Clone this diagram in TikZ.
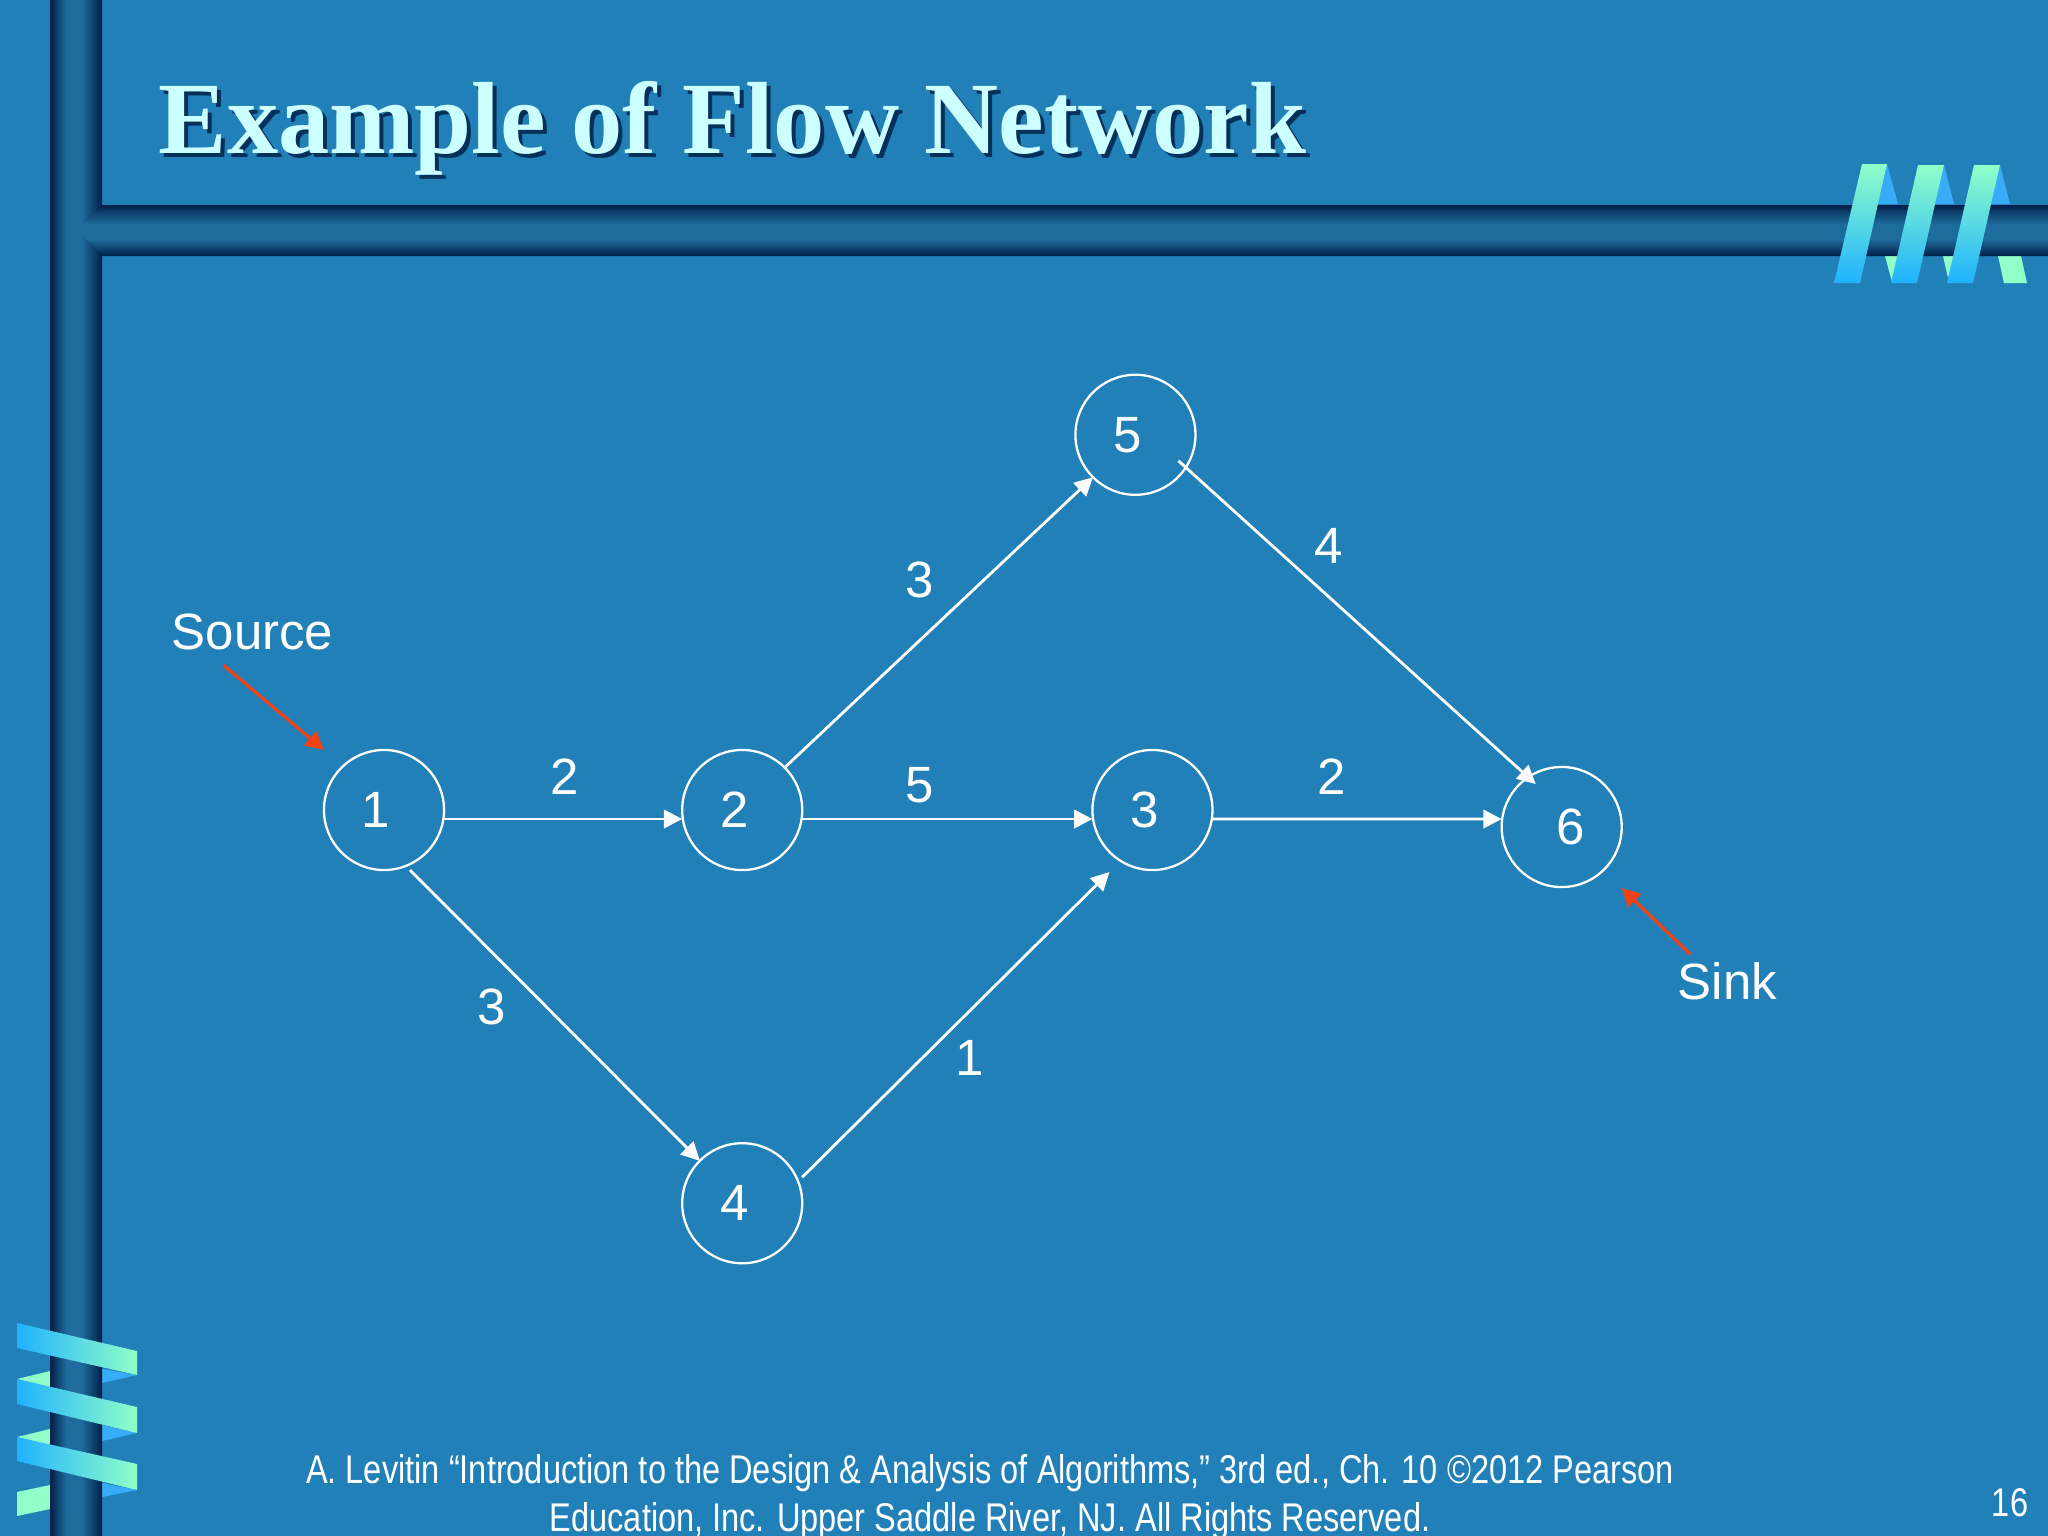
\documentclass[tikz,border=0pt]{standalone}
\usepackage{fontspec}
\usepackage{xcolor}
\usetikzlibrary{positioning,arrows.meta}
\setmainfont{Liberation Sans}
\newfontfamily\titlefont{Liberation Serif}
\newfontfamily\creditfont[FakeStretch=0.812]{Liberation Sans}

\definecolor{slideblue}{HTML}{2280B8}
\definecolor{bardark}{HTML}{001E48}
\definecolor{barshade}{HTML}{0C3D68}
\definecolor{barmid}{HTML}{1E6C9E}
\definecolor{ribbonmint}{HTML}{90FFC8}
\definecolor{ribbonblue}{HTML}{20B2FF}
\definecolor{backblue}{HTML}{38ACF8}
\definecolor{titlecyan}{HTML}{CCFFFF}
\definecolor{titleshade}{HTML}{04305A}
\definecolor{pointerred}{HTML}{F04212}

\pgfdeclarehorizontalshading{barleftright}{100bp}{color(0bp)=(bardark); color(25bp)=(bardark); color(31bp)=(barshade); color(41bp)=(barmid); color(55bp)=(barmid); color(68bp)=(barshade); color(75bp)=(bardark); color(100bp)=(bardark)}
\pgfdeclareverticalshading{bartopbottom}{100bp}{color(0bp)=(bardark); color(25bp)=(bardark); color(31bp)=(barshade); color(42bp)=(barmid); color(56bp)=(barmid); color(69bp)=(barshade); color(75bp)=(bardark); color(100bp)=(bardark)}

\tikzset{
  flownode/.style={circle, draw=white, line width=0.65pt, minimum size=1.2cm, inner sep=0pt, outer sep=0pt},
  flowedge/.style={draw=white, line width=0.8pt, -{Triangle[length=5.2pt,width=5.2pt]}},
  pointer/.style={draw=pointerred, line width=0.9pt, -{Triangle[length=5.2pt,width=5.2pt]}},
  flowtext/.style={text=white, inner sep=0pt, font=\fontsize{14.5}{16}\selectfont},
  frontdown/.style={top color=ribbonmint, bottom color=ribbonblue},
  frontacross/.style={left color=ribbonblue, right color=ribbonmint},
}

\begin{document}
\begin{tikzpicture}[x=0.01cm, y=-0.01cm]
  \fill[slideblue] (0,0) rectangle (2048,1536);
  \useasboundingbox (0,0) rectangle (2048,1536);

  % ribbon parts behind the bars
  \fill[backblue] (1887,164) -- (1898,204) -- (1878,204) -- cycle;
  \fill[backblue] (1944,165) -- (1954,204) -- (1935,204) -- cycle;
  \fill[backblue] (2000,165) -- (2010,204) -- (1991,204) -- cycle;
  \fill[ribbonmint] (1885,256) -- (1898,256) -- (1892,282) -- cycle;
  \fill[ribbonmint] (1943,256) -- (1955,256) -- (1948,278) -- cycle;
  \fill[ribbonmint] (1998,256) -- (2021,256) -- (2027,283) -- (2004,283) -- cycle;
  \fill[ribbonmint] (50,1371) -- (50,1387) -- (17,1379) -- cycle;
  \fill[ribbonmint] (50,1429) -- (50,1445) -- (17,1437) -- cycle;
  \fill[ribbonmint] (50,1485) -- (50,1509) -- (17,1516) -- (17,1492) -- cycle;
  \fill[backblue] (102,1369) -- (137,1375) -- (102,1383) -- cycle;
  \fill[backblue] (102,1425) -- (137,1433) -- (102,1441) -- cycle;
  \fill[backblue] (102,1483) -- (137,1490) -- (102,1497) -- cycle;

  % the two bars
  \shade[shading=barleftright] (50,0) rectangle (102,1536);
  \shade[shading=bartopbottom] (78,230) -- (102,205) -- (2048,205) -- (2048,256) -- (102,256) -- cycle;

  % ribbon parts in front
  \shade[frontdown] (1862,164) -- (1887,164) -- (1860,283) -- (1834,283) -- cycle;
  \shade[frontdown] (1918,165) -- (1944,165) -- (1917,283) -- (1891,283) -- cycle;
  \shade[frontdown] (1974,165) -- (2000,165) -- (1973,283) -- (1947,283) -- cycle;
  \shade[frontacross] (17,1323) -- (137,1351) -- (137,1375) -- (17,1348) -- cycle;
  \shade[frontacross] (17,1379) -- (137,1407) -- (137,1433) -- (17,1404) -- cycle;
  \shade[frontacross] (17,1437) -- (137,1464) -- (137,1490) -- (17,1461) -- cycle;

  \node (titleback) [anchor=base west, inner sep=0pt, text=titleshade, font=\titlefont\bfseries\fontsize{29.15}{32}\selectfont] at (162,157) {Example of Flow Network};
  \node (title) [anchor=base west, inner sep=0pt, text=titlecyan, font=\titlefont\bfseries\fontsize{29.15}{32}\selectfont] at (158,153) {Example of Flow Network};

  % the network
  \node (n1) [flownode, label={[flowtext, xshift=-0.08cm]center:1}] at (384,810) {};
  \node (n2) [flownode, right=2.38cm of n1, label={[flowtext, xshift=-0.08cm]center:2}] {};
  \node (n3) [flownode, right=2.9cm of n2, label={[flowtext, xshift=-0.08cm]center:3}] {};
  \node (n4) [flownode, below=2.73cm of n2, label={[flowtext, xshift=-0.08cm]center:4}] {};
  \node (n5) [flownode, above=2.55cm of n3, xshift=-0.17cm, label={[flowtext, xshift=-0.08cm]center:5}] {};
  \node (n6) [flownode, right=2.89cm of n3, yshift=-0.17cm, label={[flowtext, xshift=0.09cm]center:6}] {};

  \node (cap12) [flowtext] at (565,777) {2};
  \node (cap14) [flowtext] at (492,1007) {3};
  \node (cap23) [flowtext] at (920,785) {5};
  \node (cap25) [flowtext] at (920,580) {3};
  \node (cap36) [flowtext] at (1332,777) {2};
  \node (cap43) [flowtext] at (970,1058) {1};
  \node (cap56) [flowtext] at (1329,546) {4};

  \node (source) [flowtext, anchor=base west] at (171,649) {Source};
  \node (sink) [flowtext, anchor=base west] at (1677,999) {Sink};

  \draw[flowedge] ([shift={(60,9)}]n1.center) -- ([shift={(-60,9)}]n2.center);
  \draw[flowedge] ([shift={(60,9)}]n2.center) -- ([shift={(-60,9)}]n3.center);
  \draw[flowedge] ([shift={(60,9)}]n3.center) -- ([shift={(-60,-8)}]n6.center);
  \draw[flowedge] ([shift={(26,60)}]n1.center) -- (n4.135);
  \draw[flowedge] (n2.45) -- (n5.225);
  \draw[flowedge] ([shift={(60,-26)}]n4.center) -- ([shift={(-43,62)}]n3.center);
  \draw[flowedge] ([shift={(43,26)}]n5.center) -- ([shift={(-26,-43)}]n6.center);

  \draw[pointer] ([shift={(-29,15)}]source.south) -- ([shift={(-60,-60)}]n1.center);
  \draw[pointer] ([shift={(-37,-7)}]sink.north) -- ([shift={(60,61)}]n6.center);

  \node (credit) [text=white, align=center, inner sep=0pt, anchor=north, font=\creditfont\fontsize{11.4}{13.6}\selectfont] at (990,1454) {A. Levitin “Introduction to the Design \& Analysis of Algorithms,” 3rd ed., Ch. 10 ©2012 Pearson\\Education, Inc. Upper Saddle River, NJ. All Rights Reserved.};
  \node (pagenum) [text=white, inner sep=0pt, font=\creditfont\fontsize{11.4}{13.6}\selectfont] at (2010,1503) {16};
\end{tikzpicture}
\end{document}
